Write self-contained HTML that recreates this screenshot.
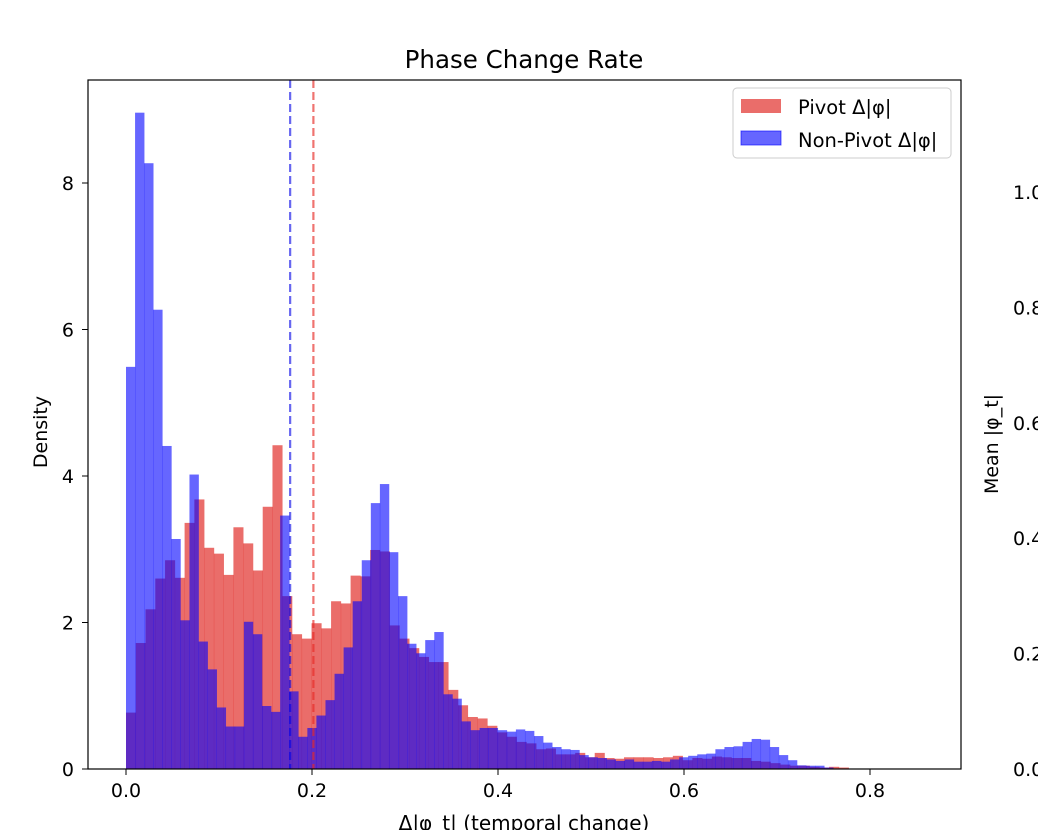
<!DOCTYPE html>
<html><head><meta charset="utf-8"><style>
html,body{margin:0;padding:0;background:#fff;}
svg text{font-family:"DejaVu Sans","Liberation Sans",sans-serif;fill:#000;}
</style></head><body>
<svg id="chart" width="1038" height="830" viewBox="0 0 1038 830" xmlns="http://www.w3.org/2000/svg">
<rect width="1038" height="830" fill="#fff"/>
<text x="524" y="68" font-size="24.5" text-anchor="middle">Phase Change Rate</text>
<g id="bars"></g>
<g id="lines"></g>
<rect x="88" y="80" width="873" height="689" fill="none" stroke="#000" stroke-width="1.2"/>
<g id="xticks"></g>
<g id="yticks"></g>
<g id="rticks"></g>
<text transform="translate(47,432) rotate(-90)" font-size="19" text-anchor="middle">Density</text>
<text transform="translate(998,444) rotate(-90)" font-size="19" text-anchor="middle">Mean |φ_t|</text>
<text x="524" y="830" font-size="20" text-anchor="middle">Δ|φ_t| (temporal change)</text>
<g>
<rect x="733" y="88" width="218" height="70" rx="4" fill="#fff" fill-opacity="0.8" stroke="#ccc"/>
<rect x="741" y="99" width="40" height="14" fill="rgba(224,40,36,0.68)"/>
<text x="798" y="114" font-size="19.5">Pivot Δ|φ|</text>
<rect x="741" y="131" width="40" height="14" fill="rgba(0,0,255,0.6)" stroke="rgba(0,0,255,0.6)"/>
<text x="798" y="147" font-size="19.5">Non-Pivot Δ|φ|</text>
</g>
</svg>
<script>
const pivotBinWidth = 0.0105;
const pivotValues = [0.77,1.72,2.18,2.60,2.85,2.61,3.36,3.68,3.02,2.94,2.65,3.30,3.08,2.71,3.58,4.42,2.36,1.84,1.78,1.99,1.92,2.29,2.26,2.64,2.63,2.99,2.97,1.96,1.78,1.65,1.53,1.46,1.46,1.08,0.87,0.71,0.69,0.59,0.50,0.44,0.37,0.35,0.27,0.28,0.20,0.20,0.22,0.16,0.22,0.15,0.14,0.16,0.16,0.16,0.15,0.16,0.18,0.12,0.15,0.14,0.17,0.16,0.15,0.15,0.11,0.10,0.08,0.06,0.045,0.045,0.03,0.02,0.03,0.02];
const nonPivotBinWidth = 0.00975;
const nonPivotValues = [5.49,8.96,8.27,6.27,4.41,3.14,2.03,4.02,1.74,1.36,0.84,0.58,0.58,2.01,1.84,0.86,0.78,3.46,1.06,0.44,0.56,0.73,0.94,1.30,1.66,2.29,2.85,3.63,3.89,2.96,2.36,1.71,1.58,1.76,1.87,1.02,0.96,0.65,0.53,0.56,0.56,0.53,0.51,0.54,0.52,0.45,0.36,0.30,0.27,0.26,0.19,0.16,0.15,0.13,0.11,0.13,0.10,0.10,0.11,0.10,0.13,0.16,0.18,0.20,0.21,0.27,0.30,0.31,0.37,0.41,0.40,0.30,0.19,0.12,0.05,0.045,0.045,0.02];
const pivotMean = 0.2015;
const nonPivotMean = 0.1765;
const xTickValues = [0.0,0.2,0.4,0.6,0.8];
const xTickLabels = ["0.0","0.2","0.4","0.6","0.8"];
const yTickValues = [0,2,4,6,8];
const yTickLabels = ["0","2","4","6","8"];
const rTickValues = [0.0,0.2,0.4,0.6,0.8,1.0];
const rTickLabels = ["0.0","0.2","0.4","0.6","0.8","1.0"];

const NS = "http://www.w3.org/2000/svg";
function xs(v){ return 126 + v * 930; }
function ys(v){ return 769 - v * 73.25; }
function rs(v){ return 769 - v * 577; }
function mk(tag, attrs, parent){
  const e = document.createElementNS(NS, tag);
  for (const k in attrs) e.setAttribute(k, attrs[k]);
  parent.appendChild(e); return e;
}
const bars = document.getElementById('bars');
function drawHist(vals, bw, fill, name){
  const g = mk('g', {}, bars);
  
  
  vals.forEach((v, i) => {
    const x0 = xs(i * bw), x1 = xs((i + 1) * bw);
    const r = mk('rect', {x: x0, y: ys(v), width: x1 - x0 + 0.3, height: ys(0) - ys(v), fill: fill}, g);
    
    
  });
}
drawHist(pivotValues, pivotBinWidth, 'rgba(224,40,36,0.68)', 'pivot');
drawHist(nonPivotValues, nonPivotBinWidth, 'rgba(0,0,255,0.6)', 'non-pivot');

const lines = document.getElementById('lines');
const l1 = mk('line', {x1: xs(nonPivotMean), x2: xs(nonPivotMean), y1: 80, y2: 769, stroke: 'rgba(0,0,230,0.6)', 'stroke-width': 2.2, 'stroke-dasharray': '8 4'}, lines);


const l2 = mk('line', {x1: xs(pivotMean), x2: xs(pivotMean), y1: 80, y2: 769, stroke: 'rgba(230,40,36,0.65)', 'stroke-width': 2.2, 'stroke-dasharray': '8 4'}, lines);



const xt = document.getElementById('xticks');
xTickValues.forEach((v, i) => {
  const x = xs(v);
  mk('line', {x1: x, x2: x, y1: 769, y2: 775, stroke: '#000'}, xt);
  const t = mk('text', {x: x, y: 797, 'font-size': 19, 'text-anchor': 'middle'}, xt);
  t.textContent = xTickLabels[i];
  
  
});
const yt = document.getElementById('yticks');
yTickValues.forEach((v, i) => {
  const y = ys(v);
  mk('line', {x1: 82, x2: 88, y1: y, y2: y, stroke: '#000'}, yt);
  const t = mk('text', {x: 74, y: y + 7, 'font-size': 19, 'text-anchor': 'end'}, yt);
  t.textContent = yTickLabels[i];
  
  
});
const rt = document.getElementById('rticks');
rTickValues.forEach((v, i) => {
  const t = mk('text', {x: 1013, y: rs(v) + 7, 'font-size': 19}, rt);
  t.textContent = rTickLabels[i];
  
  
});
</script>
</body></html>
